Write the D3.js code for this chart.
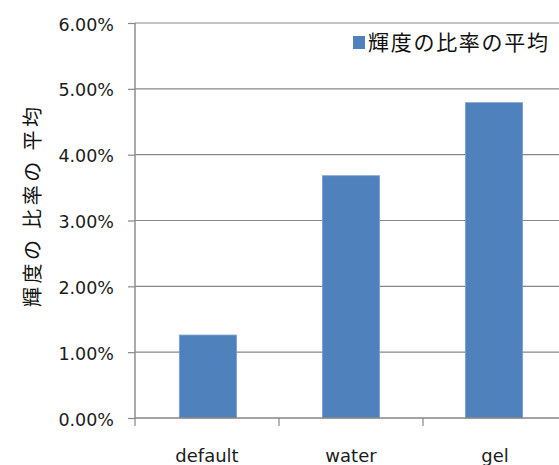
<!DOCTYPE html>
<html>
<head>
<meta charset="utf-8">
<script src="https://cdn.jsdelivr.net/npm/d3@7"></script>
<style>
  html, body { margin: 0; padding: 0; background: #fff; }
  svg { display: block; }
</style>
</head>
<body>
<script>
// Average brightness ratio per condition
const categories = ["default", "water", "gel"];
const values = [0.0126, 0.0368, 0.0479];
const yTicks = [0, 0.01, 0.02, 0.03, 0.04, 0.05, 0.06];
const seriesName = "輝度の比率の平均";
const yTitle = "輝度の 比率の 平均";

const W = 559, H = 465;
const plot = { left: 135, right: 567, top: 23, bottom: 418 };
const barColor = "#4F81BD";
const gridColor = "#878787";
const textColor = "#1b1b1b";
const latin = "'DejaVu Sans', Verdana, sans-serif";
const cjk = "'Noto Sans CJK JP', 'Noto Sans CJK SC', sans-serif";

const svg = d3.select("body").append("svg")
  .attr("width", W).attr("height", H);

const x = d3.scaleBand()
  .domain(categories)
  .range([plot.left, plot.right])
  .paddingInner(0.6).paddingOuter(0.31);

const xOuter = d3.scaleBand()
  .domain(categories)
  .range([plot.left, plot.right]);

const y = d3.scaleLinear().domain([0, 0.06]).range([plot.bottom, plot.top]);

// horizontal gridlines
svg.append("g")
  .selectAll("line")
  .data(yTicks.slice(1))
  .join("line")
  .attr("x1", plot.left).attr("x2", plot.right)
  .attr("y1", d => y(d)).attr("y2", d => y(d))
  .attr("stroke", gridColor).attr("stroke-width", 1.2);

// bars
svg.append("g")
  .selectAll("rect")
  .data(categories.map((c, i) => ({ c, v: values[i] })))
  .join("rect")
  .attr("x", d => x(d.c))
  .attr("width", x.bandwidth())
  .attr("y", d => y(d.v))
  .attr("height", d => y(0) - y(d.v))
  .attr("fill", barColor)
  .attr("stroke", "#7aa0cf").attr("stroke-width", 0.8);

// y axis
const yAxis = svg.append("g")
  .attr("transform", `translate(${plot.left},0)`)
  .call(d3.axisLeft(y).tickValues(yTicks).tickSize(7).tickPadding(14)
    .tickFormat(d3.format(".2%")));
yAxis.select(".domain").attr("stroke", gridColor).attr("stroke-width", 1.4)
  .attr("d", `M0,${plot.top}V${plot.bottom + 1}`);
yAxis.selectAll(".tick line").attr("stroke", gridColor).attr("stroke-width", 1.2);
yAxis.selectAll(".tick text")
  .attr("font-family", latin).attr("font-size", 17.5)
  .attr("fill", textColor).attr("dy", "0.4em");

// x axis with boundary ticks between categories
const xg = svg.append("g").attr("transform", `translate(0,${plot.bottom})`);
xg.append("line")
  .attr("x1", plot.left).attr("x2", plot.right)
  .attr("stroke", gridColor).attr("stroke-width", 1.4);
xg.selectAll("line.tk")
  .data(categories)
  .join("line")
  .attr("class", "tk")
  .attr("x1", d => xOuter(d)).attr("x2", d => xOuter(d))
  .attr("y1", 0).attr("y2", 8)
  .attr("stroke", gridColor).attr("stroke-width", 1.2);
xg.selectAll("text")
  .data(categories)
  .join("text")
  .attr("x", d => xOuter(d) + xOuter.bandwidth() / 2)
  .attr("y", 44)
  .attr("text-anchor", "middle")
  .attr("font-family", latin).attr("font-size", 18)
  .attr("fill", textColor)
  .text(d => d);

// y axis title
svg.append("text")
  .attr("transform", `translate(40,207) rotate(-90)`)
  .attr("text-anchor", "middle")
  .attr("font-family", cjk).attr("font-size", 20)
  .attr("fill", "#111")
  .attr("textLength", 200).attr("lengthAdjust", "spacing")
  .style("white-space", "pre")
  .text(yTitle);

// legend
const lg = svg.append("g").attr("transform", "translate(353,36)");
lg.append("rect").attr("width", 12).attr("height", 13).attr("fill", barColor);
lg.append("text")
  .attr("x", 15).attr("y", 13.5)
  .attr("font-family", cjk).attr("font-size", 21)
  .attr("fill", "#111")
  .attr("textLength", 180).attr("lengthAdjust", "spacing")
  .text(seriesName);
</script>
</body>
</html>
